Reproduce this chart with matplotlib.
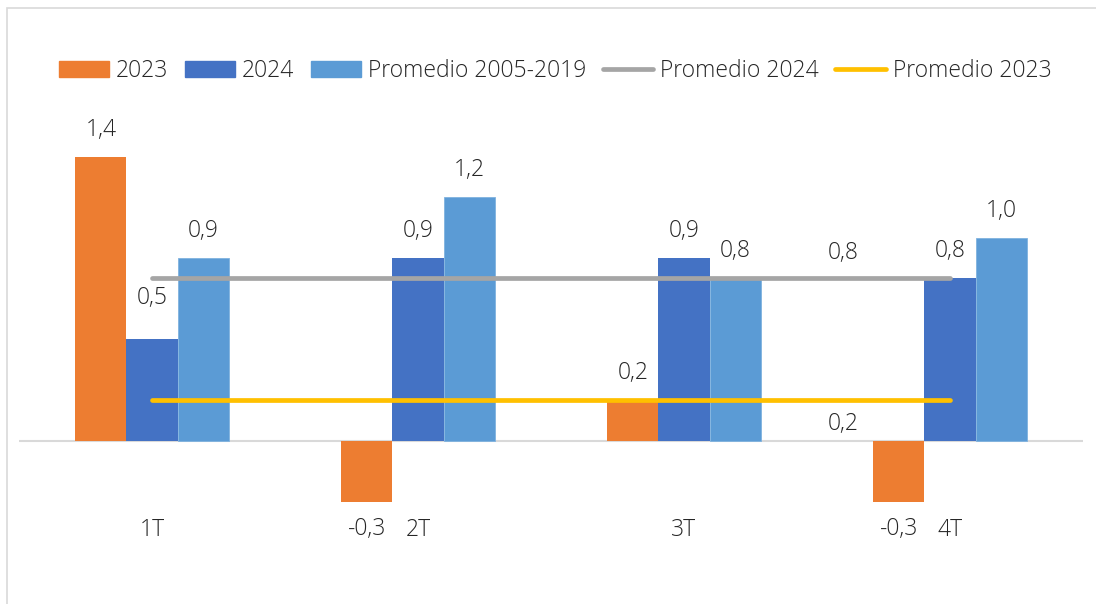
import matplotlib
matplotlib.use("Agg")
import matplotlib.pyplot as plt
import matplotlib.patches as mpatches
from matplotlib.lines import Line2D
import numpy as np

plt.rcParams['font.family'] = ['Open Sans', 'DejaVu Sans']
plt.rcParams['font.weight'] = 'light'

categories = ["1T", "2T", "3T", "4T"]
s2023 = [1.4, -0.3, 0.2, -0.3]
s2024 = [0.5, 0.9, 0.9, 0.8]
prom_05_19 = [0.9, 1.2, 0.8, 1.0]
prom_2024 = [0.8, 0.8, 0.8, 0.8]
prom_2023 = [0.2, 0.2, 0.2, 0.2]

c2023 = "#ED7D31"
c2024 = "#4472C4"
cprom = "#5B9BD5"
cline24 = "#A5A5A5"
cline23 = "#FFC000"
txt = "#262626"

W, H = 1096, 604
fig = plt.figure(figsize=(W / 100, H / 100), dpi=100)
ax = fig.add_axes([19 / W, (H - 522) / H, (1083 - 19) / W, (522 - 116) / H])

x = np.arange(len(categories))
bw = 0.192
ax.bar(x - bw, s2023, bw, color=c2023, zorder=2)
ax.bar(x, s2024, bw, color=c2024, zorder=2)
ax.bar(x + bw, prom_05_19, bw, color=cprom, edgecolor="#7FB2DF", linewidth=0.6, zorder=2)
ax.plot(x, prom_2024, color=cline24, lw=3.4, solid_capstyle="round", zorder=3)
ax.plot(x, prom_2023, color=cline23, lw=3.4, solid_capstyle="round", zorder=3)

ax.axhline(0, color="#D9D9D9", lw=1.5, zorder=1)
ax.set_xlim(-0.5, 3.5)
ax.set_ylim(-0.4, 1.6)
for s in ax.spines.values():
    s.set_visible(False)
ax.set_yticks([])
ax.set_xticks(x)
fs = 16.5
ax.set_xticklabels(categories, fontsize=fs, color=txt)
ax.tick_params(axis="x", length=0, pad=-3)

def fmt(v):
    return f"{v:.1f}".replace(".", ",")

def label_bars(xs, vals, extra=None):
    for i, (xi, v) in enumerate(zip(xs, vals)):
        off = 27 if v >= 0 else -27
        if extra and i in extra:
            off = extra[i]
        ax.annotate(fmt(v), (xi, v), xytext=(0, off * 0.72), textcoords="offset points",
                    ha="center", va="center", fontsize=fs, color=txt)

label_bars(x - bw, s2023)
label_bars(x, s2024, extra={0: 41})
label_bars(x + bw, prom_05_19)

# line labels near the last point
ax.annotate(fmt(prom_2024[-1]), (x[-1], prom_2024[-1]), xytext=(-107 * 0.72, 25 * 0.72),
            textcoords="offset points", ha="center", va="center", fontsize=fs, color=txt)
ax.annotate(fmt(prom_2023[-1]), (x[-1], prom_2023[-1]), xytext=(-107 * 0.72, -24 * 0.72),
            textcoords="offset points", ha="center", va="center", fontsize=fs, color=txt)

handles = [
    mpatches.Patch(color=c2023, label="2023"),
    mpatches.Patch(color=c2024, label="2024"),
    mpatches.Patch(color=cprom, label="Promedio 2005-2019"),
    Line2D([0], [0], color=cline24, lw=3.4, solid_capstyle="round", label="Promedio 2024"),
    Line2D([0], [0], color=cline23, lw=3.4, solid_capstyle="round", label="Promedio 2023"),
]
fig.legend(handles=handles, loc="center", bbox_to_anchor=(555 / W, 1 - 71 / H), ncol=5,
           frameon=False, fontsize=fs, handlelength=2.2, handleheight=0.65,
           handletextpad=0.3, columnspacing=0.72, labelcolor=txt)

fig.patches.append(mpatches.Rectangle((7 / W, -0.1), 2, (H - 8) / H + 0.1, transform=fig.transFigure,
                                      fill=False, edgecolor="#D9D9D9", lw=1.2))

fig.savefig("out.png", dpi=100, facecolor="white")
